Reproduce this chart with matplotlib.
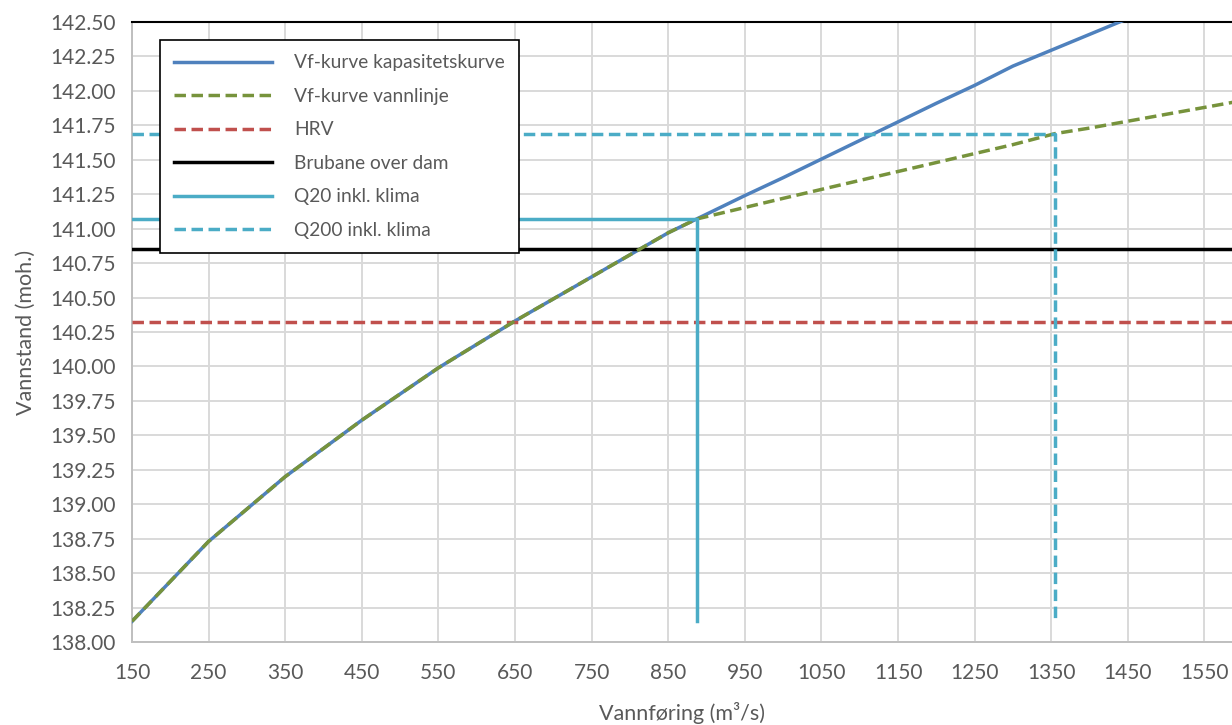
import matplotlib
matplotlib.use("Agg")
import matplotlib.pyplot as plt
from matplotlib.ticker import FixedLocator

# ---- data ----
kap_q = [150, 250, 350, 450, 550, 650, 750, 850, 887, 950, 1000, 1100, 1200, 1250, 1300, 1400, 1500]
kap_h = [138.15, 138.73, 139.20, 139.61, 139.99, 140.33, 140.65, 140.97, 141.07, 141.24, 141.37,
         141.64, 141.91, 142.04, 142.18, 142.41, 142.64]

vl_q = [150, 250, 350, 450, 550, 650, 750, 850, 887, 1000, 1100, 1200, 1300, 1355, 1400, 1500, 1600]
vl_h = [138.15, 138.73, 139.20, 139.61, 139.99, 140.33, 140.65, 140.97, 141.07, 141.22, 141.35,
        141.48, 141.61, 141.69, 141.73, 141.83, 141.93]

hrv_q = [150, 1600]
hrv_h = [140.32, 140.32]

bru_q = [150, 1600]
bru_h = [140.85, 140.85]

q20_q = [150, 887, 887]
q20_h = [141.07, 141.07, 138.15]

q200_q = [150, 1355, 1355]
q200_h = [141.69, 141.69, 138.15]

x_ticks = [150, 250, 350, 450, 550, 650, 750, 850, 950, 1050, 1150, 1250, 1350, 1450, 1550]
y_ticks = [138.00 + 0.25 * i for i in range(19)]

labels = ["Vf-kurve kapasitetskurve", "Vf-kurve vannlinje", "HRV", "Brubane over dam",
          "Q20 inkl. klima", "Q200 inkl. klima"]

# ---- style ----
plt.rcParams['font.family'] = ['Lato', 'DejaVu Sans']
txt = '#595959'
W, H = 1232, 725
fig = plt.figure(figsize=(W / 100, H / 100), dpi=100)
ax = fig.add_axes([132 / W, (H - 642) / H, 1100 / W, 620 / H])

lw = 2.5
dash = (0, (3.3, 1.6))
ax.plot(kap_q, kap_h, color='#4f81bd', lw=lw, label=labels[0], zorder=3)
ax.plot(vl_q, vl_h, color='#77933c', lw=lw, ls=dash, label=labels[1], zorder=4)
ax.plot(hrv_q, hrv_h, color='#c0504d', lw=lw, ls=dash, label=labels[2], zorder=3)
ax.plot(bru_q, bru_h, color='black', lw=lw, label=labels[3], zorder=3)
ax.plot(q20_q, q20_h, color='#4bacc6', lw=lw, label=labels[4], zorder=5)
ax.plot(q200_q, q200_h, color='#4bacc6', lw=lw, ls=dash, label=labels[5], zorder=5)

ax.set_xlim(150, 1586)
ax.set_ylim(138.0, 142.5)
ax.xaxis.set_major_locator(FixedLocator(x_ticks))
ax.yaxis.set_major_locator(FixedLocator(y_ticks))
ax.set_yticklabels([f"{v:.2f}" for v in y_ticks])
ax.grid(True, color='#d9d9d9', lw=1.4, zorder=0)
ax.set_axisbelow(True)
ax.tick_params(length=0, labelsize=15, colors=txt, pad=12)
ax.tick_params(axis='x', pad=15)

for s in ['left', 'bottom']:
    ax.spines[s].set_color('#bfbfbf')
    ax.spines[s].set_linewidth(1.4)
ax.spines['right'].set_visible(False)
ax.spines['top'].set_color('#000000')
ax.spines['top'].set_linewidth(1.5)

ax.set_xlabel("Vannføring (m³/s)", fontsize=15.5, color=txt, labelpad=14)
ax.set_ylabel("Vannstand (moh.)", fontsize=15.5, color=txt, labelpad=10)

leg = ax.legend(loc='upper left', bbox_to_anchor=(0.0255, 0.971), fontsize=13.8,
                handlelength=5.1, handletextpad=1.15, labelspacing=0.86,
                borderpad=0.75, borderaxespad=0, fancybox=False, framealpha=1,
                edgecolor='black')
leg.get_frame().set_linewidth(1.2)
for t in leg.get_texts():
    t.set_color(txt)
leg.set_zorder(10)

fig.savefig("out.png", dpi=100)
